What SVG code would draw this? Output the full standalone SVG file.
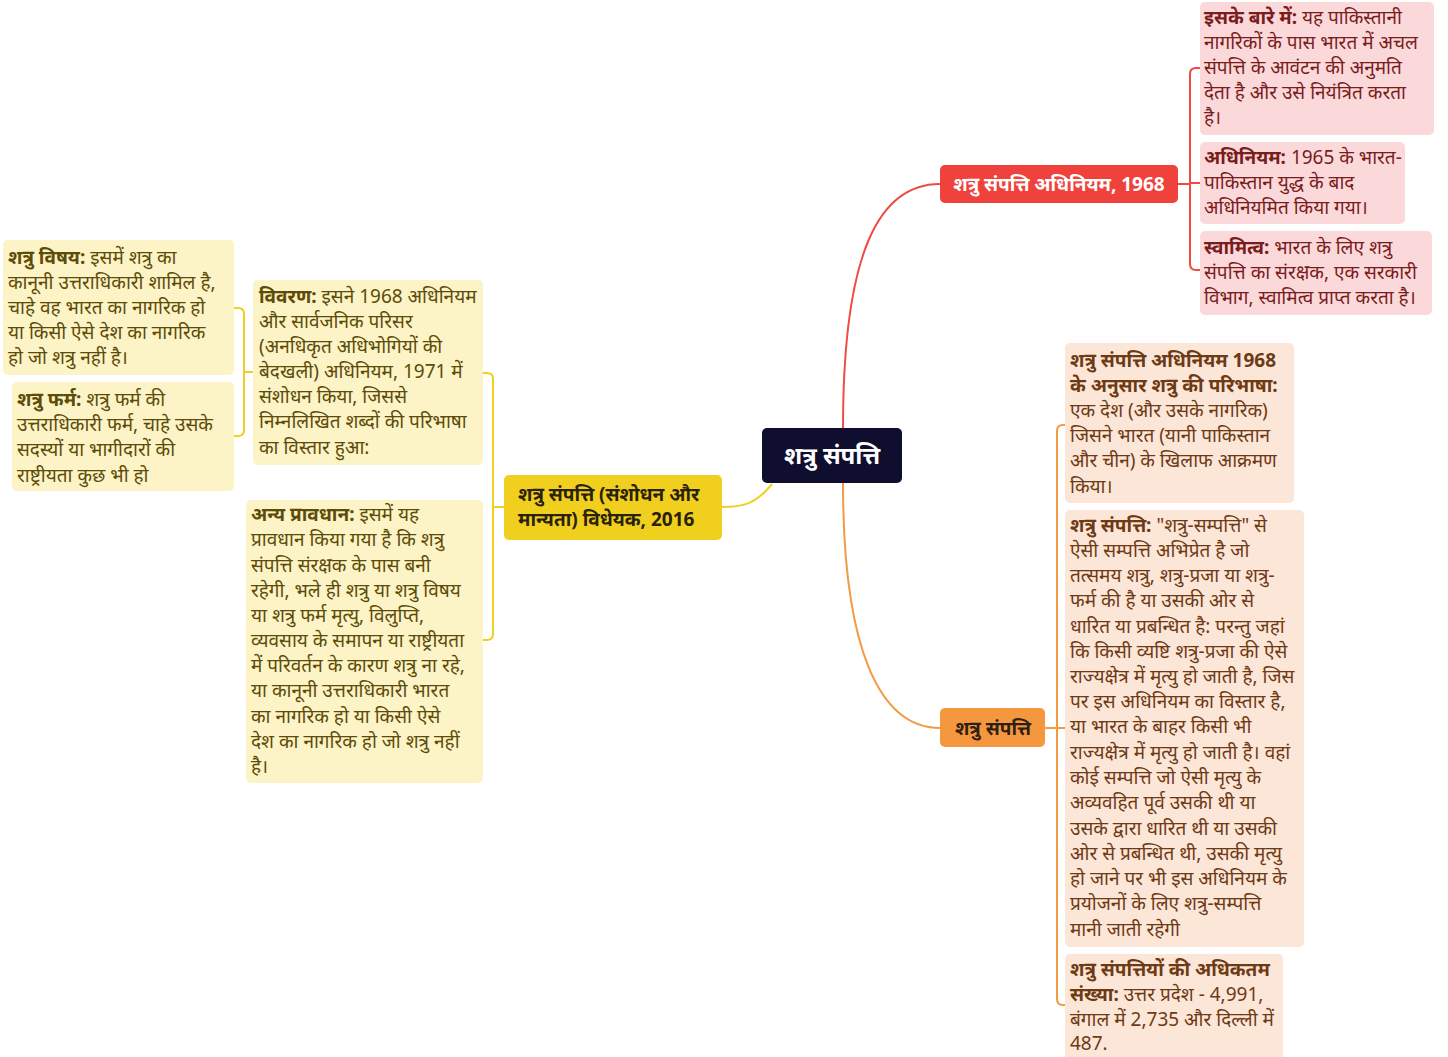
<svg xmlns="http://www.w3.org/2000/svg" width="1448" height="1057" viewBox="0 0 1448 1057">
<style>
text{font-family:"Noto Sans","Noto Sans Devanagari","Lohit Devanagari",sans-serif;font-size:19px}
.b{font-weight:bold}
.red{fill:#7a1c1c}
.org{fill:#6e3a14}
.yel{fill:#5c4c08}
.rc{fill:#fbd9da}
.oc{fill:#fce6d8}
.yc{fill:#fcf3c6}
.conn{fill:none;stroke-width:2}
</style>
<rect width="1448" height="1057" fill="#ffffff"/>
<g id="connectors">
<path class="conn" stroke="#ef4a43" d="M843,428 C843,250 880,184 940,184"/>
<path class="conn" stroke="#f39a45" d="M843,483 C843,650 880,728 940,728"/>
<path class="conn" stroke="#efcf22" d="M772,484 C755,505 742,507 722,507"/>
<path class="conn" stroke="#ef4a43" stroke-width="1.5" d="M1178,184 H1190 M1200,68 H1196 Q1190,68 1190,74 V264 Q1190,270 1196,270 H1200 M1190,183 H1200"/>
<path class="conn" stroke="#f39a45" stroke-width="1.5" d="M1045,728 H1057 M1065,425 H1063 Q1057,425 1057,431 V999 Q1057,1005 1063,1005 H1065 M1057,728 H1065"/>
<path class="conn" stroke="#efcf22" stroke-width="1.5" d="M504,507 H493 M483,373 H487 Q493,373 493,379 V634 Q493,640 487,640 H483"/>
<path class="conn" stroke="#efcf22" stroke-width="1.5" d="M253,372 H244 M234,308 H238 Q244,308 244,314 V430 Q244,436 238,436 H234"/>
</g>
<g id="center">
<rect x="762" y="428" width="140" height="55" rx="5" fill="#0f0e2f"/>
<text x="832" y="464" text-anchor="middle" fill="#ffffff" class="b" style="font-size:24px">शत्रु संपत्ति</text>
</g>
<g id="act1968">
<rect x="940" y="165" width="238" height="38" rx="5" fill="#ef423d"/>
<text x="1059" y="191" text-anchor="middle" fill="#ffffff" class="b">शत्रु संपत्ति अधिनियम, 1968</text>
</g>
<g id="about">
<rect class="rc" x="1200" y="2" width="234" height="133" rx="5"/>
<text class="red" x="1204"><tspan x="1204" y="24"><tspan class="b">इसके बारे में:</tspan> यह पाकिस्तानी</tspan><tspan x="1204" y="49">नागरिकों के पास भारत में अचल</tspan><tspan x="1204" y="74">संपत्ति के आवंटन की अनुमति</tspan><tspan x="1204" y="99">देता है और उसे नियंत्रित करता</tspan><tspan x="1204" y="124">है।</tspan></text>
</g>
<g id="adhiniyam">
<rect class="rc" x="1200" y="142" width="205" height="82" rx="5"/>
<text class="red"><tspan x="1204" y="164"><tspan class="b">अधिनियम:</tspan> 1965 के भारत-</tspan><tspan x="1204" y="189">पाकिस्तान युद्ध के बाद</tspan><tspan x="1204" y="214">अधिनियमित किया गया।</tspan></text>
</g>
<g id="swamitva">
<rect class="rc" x="1200" y="231" width="232" height="84" rx="5"/>
<text class="red"><tspan x="1204" y="254"><tspan class="b">स्वामित्व:</tspan> भारत के लिए शत्रु</tspan><tspan x="1204" y="279">संपत्ति का संरक्षक, एक सरकारी</tspan><tspan x="1204" y="304">विभाग, स्वामित्व प्राप्त करता है।</tspan></text>
</g>
<g id="property">
<rect x="940" y="708" width="105" height="39" rx="5" fill="#f5973f"/>
<text x="993" y="735" text-anchor="middle" fill="#2e2013" class="b">शत्रु संपत्ति</text>
</g>
<g id="definition">
<rect class="oc" x="1065" y="343" width="229" height="160" rx="5"/>
<text class="org"><tspan x="1070" y="367" class="b">शत्रु संपत्ति अधिनियम 1968</tspan><tspan x="1070" y="392" class="b">के अनुसार शत्रु की परिभाषा:</tspan><tspan x="1070" y="417">एक देश (और उसके नागरिक)</tspan><tspan x="1070" y="442">जिसने भारत (यानी पाकिस्तान</tspan><tspan x="1070" y="467">और चीन) के खिलाफ आक्रमण</tspan><tspan x="1070" y="493">किया।</tspan></text>
</g>
<g id="enemyproperty">
<rect class="oc" x="1065" y="510" width="239" height="437" rx="5"/>
<text class="org"><tspan x="1070" y="532"><tspan class="b">शत्रु संपत्ति:</tspan> "शत्रु-सम्पत्ति" से</tspan><tspan x="1070" y="557">ऐसी सम्पत्ति अभिप्रेत है जो</tspan><tspan x="1070" y="582">तत्समय शत्रु, शत्रु-प्रजा या शत्रु-</tspan><tspan x="1070" y="607">फर्म की है या उसकी ओर से</tspan><tspan x="1070" y="633">धारित या प्रबन्धित है: परन्तु जहां</tspan><tspan x="1070" y="658">कि किसी व्यष्टि शत्रु-प्रजा की ऐसे</tspan><tspan x="1070" y="683">राज्यक्षेत्र में मृत्यु हो जाती है, जिस</tspan><tspan x="1070" y="708">पर इस अधिनियम का विस्तार है,</tspan><tspan x="1070" y="733">या भारत के बाहर किसी भी</tspan><tspan x="1070" y="759">राज्यक्षेत्र में मृत्यु हो जाती है। वहां</tspan><tspan x="1070" y="784">कोई सम्पत्ति जो ऐसी मृत्यु के</tspan><tspan x="1070" y="809">अव्यवहित पूर्व उसकी थी या</tspan><tspan x="1070" y="835">उसके द्वारा धारित थी या उसकी</tspan><tspan x="1070" y="860">ओर से प्रबन्धित थी, उसकी मृत्यु</tspan><tspan x="1070" y="885">हो जाने पर भी इस अधिनियम के</tspan><tspan x="1070" y="910">प्रयोजनों के लिए शत्रु-सम्पत्ति</tspan><tspan x="1070" y="936">मानी जाती रहेगी</tspan></text>
</g>
<g id="maxcount">
<rect class="oc" x="1065" y="954" width="218" height="110" rx="5"/>
<text class="org"><tspan x="1070" y="976" class="b">शत्रु संपत्तियों की अधिकतम</tspan><tspan x="1070" y="1001"><tspan class="b">संख्या:</tspan> उत्तर प्रदेश - 4,991,</tspan><tspan x="1070" y="1026">बंगाल में 2,735 और दिल्ली में</tspan><tspan x="1070" y="1050">487.</tspan></text>
</g>
<g id="bill2016">
<rect x="504" y="475" width="218" height="65" rx="5" fill="#f1cf1f"/>
<text fill="#2a2208" class="b"><tspan x="518" y="501">शत्रु संपत्ति (संशोधन और</tspan><tspan x="518" y="526">मान्यता) विधेयक, 2016</tspan></text>
</g>
<g id="vivaran">
<rect class="yc" x="253" y="280" width="230" height="185" rx="5"/>
<text class="yel"><tspan x="259" y="303"><tspan class="b">विवरण:</tspan> इसने 1968 अधिनियम</tspan><tspan x="259" y="328">और सार्वजनिक परिसर</tspan><tspan x="259" y="353">(अनधिकृत अधिभोगियों की</tspan><tspan x="259" y="378">बेदखली) अधिनियम, 1971 में</tspan><tspan x="259" y="403">संशोधन किया, जिससे</tspan><tspan x="259" y="428">निम्नलिखित शब्दों की परिभाषा</tspan><tspan x="259" y="454">का विस्तार हुआ:</tspan></text>
</g>
<g id="anya">
<rect class="yc" x="246" y="500" width="237" height="283" rx="5"/>
<text class="yel"><tspan x="251" y="521"><tspan class="b">अन्य प्रावधान:</tspan> इसमें यह</tspan><tspan x="251" y="546">प्रावधान किया गया है कि शत्रु</tspan><tspan x="251" y="572">संपत्ति संरक्षक के पास बनी</tspan><tspan x="251" y="597">रहेगी, भले ही शत्रु या शत्रु विषय</tspan><tspan x="251" y="622">या शत्रु फर्म मृत्यु, विलुप्ति,</tspan><tspan x="251" y="647">व्यवसाय के समापन या राष्ट्रीयता</tspan><tspan x="251" y="672">में परिवर्तन के कारण शत्रु ना रहे,</tspan><tspan x="251" y="697">या कानूनी उत्तराधिकारी भारत</tspan><tspan x="251" y="723">का नागरिक हो या किसी ऐसे</tspan><tspan x="251" y="748">देश का नागरिक हो जो शत्रु नहीं</tspan><tspan x="251" y="773">है।</tspan></text>
</g>
<g id="vishay">
<rect class="yc" x="3" y="240" width="231" height="135" rx="5"/>
<text class="yel"><tspan x="8" y="264"><tspan class="b">शत्रु विषय:</tspan> इसमें शत्रु का</tspan><tspan x="8" y="289">कानूनी उत्तराधिकारी शामिल है,</tspan><tspan x="8" y="314">चाहे वह भारत का नागरिक हो</tspan><tspan x="8" y="339">या किसी ऐसे देश का नागरिक</tspan><tspan x="8" y="364">हो जो शत्रु नहीं है।</tspan></text>
</g>
<g id="firm">
<rect class="yc" x="12" y="382" width="222" height="109" rx="5"/>
<text class="yel"><tspan x="17" y="406"><tspan class="b">शत्रु फर्म:</tspan> शत्रु फर्म की</tspan><tspan x="17" y="431">उत्तराधिकारी फर्म, चाहे उसके</tspan><tspan x="17" y="456">सदस्यों या भागीदारों की</tspan><tspan x="17" y="482">राष्ट्रीयता कुछ भी हो</tspan></text>
</g>
</svg>
